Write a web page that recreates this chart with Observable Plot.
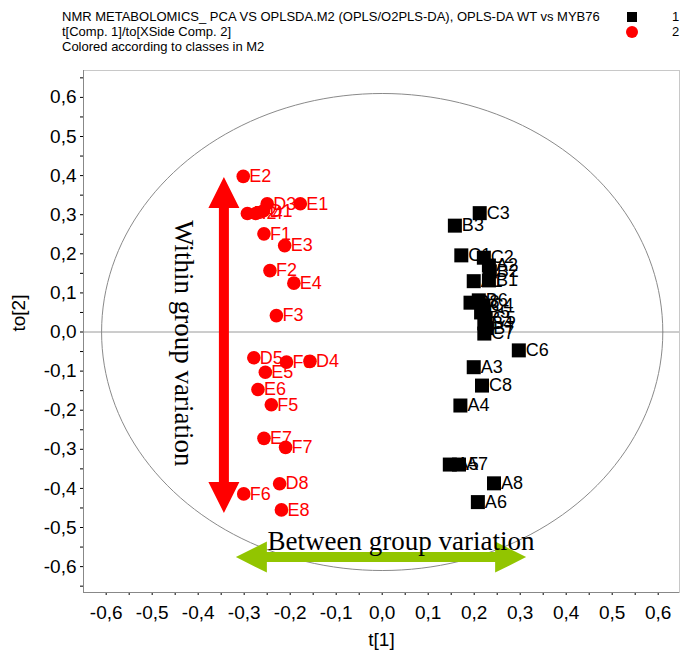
<!DOCTYPE html>
<html>
<head>
<meta charset="utf-8">
<script src="https://cdn.jsdelivr.net/npm/d3@7"></script>
<script src="https://cdn.jsdelivr.net/npm/@observablehq/plot@0.6"></script>
<style>
  body { margin: 0; background: #fff; font-family: "Liberation Sans", Arial, sans-serif; }
  #wrap { position: relative; width: 681px; height: 657px; overflow: hidden; }
  #head { position: relative; height: 60px; font-size: 13px; color: #000; }
  #head .ln { position: absolute; left: 62px; white-space: nowrap; line-height: 15px; }
  #head .key { position: absolute; }
  #head .lab { position: absolute; left: 672px; line-height: 15px; }
</style>
</head>
<body>
<div id="wrap">
  <div id="head">
    <div class="ln" style="top:9px">NMR METABOLOMICS_ PCA VS OPLSDA.M2 (OPLS/O2PLS-DA), OPLS-DA WT vs MYB76</div>
    <div class="ln" style="top:24px">t[Comp. 1]/to[XSide Comp. 2]</div>
    <div class="ln" style="top:39px">Colored according to classes in M2</div>
    <div class="key" style="left:627px;top:12px;width:10px;height:10px;background:#000"></div>
    <div class="lab" style="top:9px">1</div>
    <div class="key" style="left:626px;top:26px;width:12px;height:12px;border-radius:50%;background:#ff0000"></div>
    <div class="lab" style="top:24px">2</div>
  </div>
  <div id="chart"></div>
</div>
<script>
// Class 1 (WT) scores: t[1] and to[2]
const class1Names = ["C3","B3","C1","C2","A2","B2","A1","B1","B8","B6","C4","B5","C5","B4","B7","C7","C6","A3","C8","A4","A5","A7","A8","A6"];
const class1T1 =    [0.212,0.158,0.172,0.221,0.232,0.234,0.199,0.232,0.192,0.210,0.220,0.215,0.225,0.222,0.226,0.222,0.297,0.199,0.217,0.170,0.147,0.167,0.243,0.208];
const class1To2 =   [0.304,0.272,0.196,0.190,0.170,0.155,0.130,0.132,0.075,0.081,0.068,0.050,0.036,0.022,0.010,-0.004,-0.047,-0.090,-0.137,-0.188,-0.339,-0.339,-0.387,-0.435];

// Class 2 (MYB76) scores
const class2Names = ["E2","D3","E1","D2","F4","D1","F1","E3","F2","E4","F3","D5","F8","D4","E5","E6","F5","E7","F7","D8","F6","E8"];
const class2T1 =    [-0.302,-0.250,-0.178,-0.293,-0.275,-0.258,-0.257,-0.212,-0.244,-0.192,-0.230,-0.279,-0.208,-0.157,-0.254,-0.270,-0.241,-0.257,-0.210,-0.223,-0.301,-0.219];
const class2To2 =   [0.398,0.328,0.328,0.303,0.303,0.310,0.251,0.221,0.157,0.125,0.042,-0.066,-0.077,-0.075,-0.103,-0.147,-0.186,-0.272,-0.295,-0.388,-0.414,-0.455];

// Axis ticks: minor every 0.05, labelled every 0.1
const xTickValues = [-0.6,-0.55,-0.5,-0.45,-0.4,-0.35,-0.3,-0.25,-0.2,-0.15,-0.1,-0.05,0,0.05,0.1,0.15,0.2,0.25,0.3,0.35,0.4,0.45,0.5,0.55,0.6];
const yTickValues = [-0.65,-0.6,-0.55,-0.5,-0.45,-0.4,-0.35,-0.3,-0.25,-0.2,-0.15,-0.1,-0.05,0,0.05,0.1,0.15,0.2,0.25,0.3,0.35,0.4,0.45,0.5,0.55,0.6,0.65];
const labelledTicks = [-0.6,-0.5,-0.4,-0.3,-0.2,-0.1,0,0.1,0.2,0.3,0.4,0.5,0.6];
const tickLabels = ["-0,6","-0,5","-0,4","-0,3","-0,2","-0,1","0,0","0,1","0,2","0,3","0,4","0,5","0,6"];

const xDomain = [-0.6493, 0.6463];
const yDomain = [-0.6662, 0.6688];

// Hotelling's T2 ellipse radii (t[1], to[2])
const ellipseRadii = [0.61, 0.61];

// Annotation arrows
const withinArrow = {x1: -0.343, y1: 0.395, x2: -0.343, y2: -0.464, fill: "#ff0000"};
const betweenArrow = {x1: -0.317, y1: -0.577, x2: 0.314, y2: -0.577, fill: "#92c500"};
const annotations = [
  {text: "Within group variation", x: -0.432, y: -0.029, rotate: 90},
  {text: "Between group variation", x: 0.041, y: -0.536, rotate: 0}
];

const class1 = class1Names.map((name, i) => ({name, t1: class1T1[i], to2: class1To2[i]}));
const class2 = class2Names.map((name, i) => ({name, t1: class2T1[i], to2: class2To2[i]}));
const ellipse = d3.range(0, 361, 2).map(a => ({
  t1: ellipseRadii[0] * Math.cos(a * Math.PI / 180),
  to2: ellipseRadii[1] * Math.sin(a * Math.PI / 180)
}));

const labelFor = d => {
  const k = labelledTicks.findIndex(v => Math.abs(v - d) < 1e-9);
  return k < 0 ? "" : tickLabels[k];
};

// Double-headed block arrow drawn in pixel space from data endpoints
function blockArrow(a, shaft = 10, headW = 31, headL = 31) {
  return (index, scales) => {
    const x1 = scales.x(a.x1), y1 = scales.y(a.y1), x2 = scales.x(a.x2), y2 = scales.y(a.y2);
    const len = Math.hypot(x2 - x1, y2 - y1);
    const ux = (x2 - x1) / len, uy = (y2 - y1) / len;
    const nx = -uy, ny = ux;
    const P = (bx, by, along, side) => [bx + ux * along + nx * side, by + uy * along + ny * side];
    const pts = [
      [x1, y1],
      P(x1, y1, headL, headW / 2), P(x1, y1, headL, shaft / 2),
      P(x2, y2, -headL, shaft / 2), P(x2, y2, -headL, headW / 2),
      [x2, y2],
      P(x2, y2, -headL, -headW / 2), P(x2, y2, -headL, -shaft / 2),
      P(x1, y1, headL, -shaft / 2), P(x1, y1, headL, -headW / 2)
    ];
    const path = d3.create("svg:path")
      .attr("d", "M" + pts.map(p => p.join(",")).join("L") + "Z")
      .attr("fill", a.fill);
    return path.node();
  };
}

const chart = Plot.plot({
  width: 681,
  height: 597,
  marginTop: 10,
  marginBottom: 65,
  marginLeft: 83,
  marginRight: 2,
  style: {fontFamily: "'Liberation Sans', Arial, sans-serif", fontSize: "19px", color: "#000", background: "#fff"},
  x: {domain: xDomain, ticks: xTickValues, tickFormat: labelFor, tickSize: 3, tickPadding: 10, label: null},
  y: {domain: yDomain, ticks: yTickValues, tickFormat: labelFor, tickSize: 3, tickPadding: 4, label: null},
  marks: [
    Plot.frame({stroke: "#c8c8c8"}),
    Plot.ruleY([0], {stroke: "#9a9a9a", strokeWidth: 1}),
    Plot.line(ellipse, {x: "t1", y: "to2", stroke: "#8a8a8a", strokeWidth: 1}),
    Plot.ruleX([xDomain[0]], {stroke: "#888"}),
    Plot.ruleY([yDomain[0]], {stroke: "#888"}),
    blockArrow(withinArrow),
    blockArrow(betweenArrow),
    Plot.text(annotations, {x: "x", y: "y", text: "text", rotate: "rotate", fontFamily: "'Liberation Serif', 'Times New Roman', serif", fontSize: 27, fill: "#000"}),
    Plot.text(class1, {x: "t1", y: "to2", text: "name", textAnchor: "start", dx: 7, fontSize: 18, fill: "#000"}),
    Plot.text(class2, {x: "t1", y: "to2", text: "name", textAnchor: "start", dx: 6, fontSize: 18, fill: "#ff0000"}),
    Plot.dot(class1, {x: "t1", y: "to2", symbol: "square", r: 7.9, fill: "#000", stroke: "none"}),
    Plot.dot(class2, {x: "t1", y: "to2", r: 6.8, fill: "#ff0000", stroke: "none"}),
    Plot.text(["t[1]"], {frameAnchor: "bottom", dy: 53, fontSize: 19, fill: "#000"}),
    Plot.text(["to[2]"], {frameAnchor: "left", dx: -65, rotate: -90, fontSize: 19, fill: "#000"})
  ]
});
document.getElementById("chart").appendChild(chart);
</script>
</body>
</html>
